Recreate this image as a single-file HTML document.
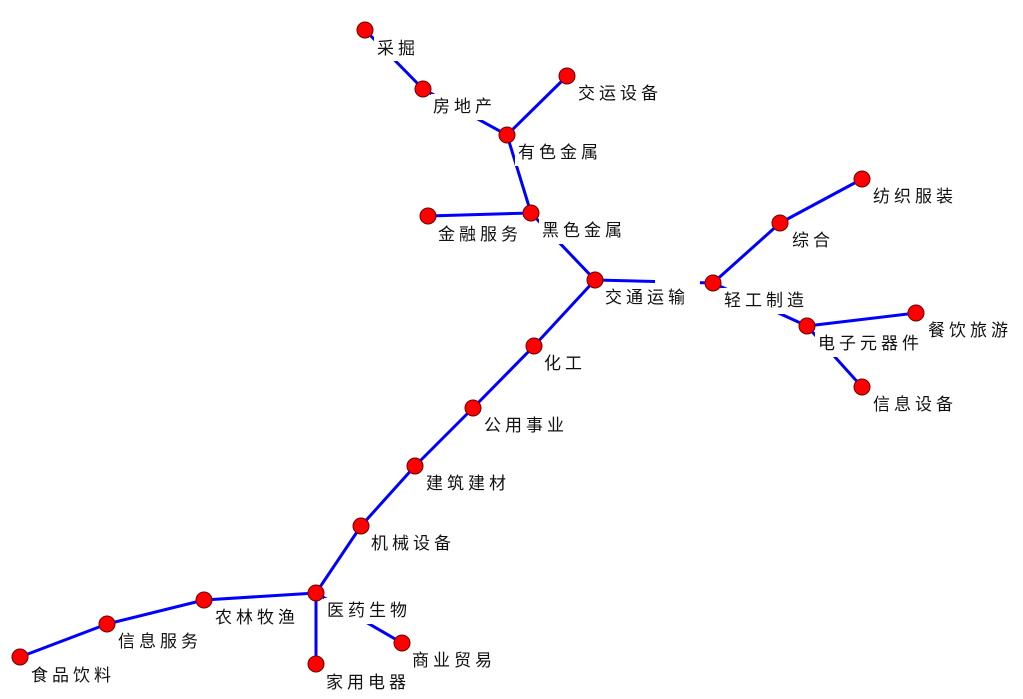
<!DOCTYPE html>
<html><head><meta charset="utf-8"><style>
html,body{margin:0;padding:0;background:#fff;}
svg{display:block;}
text{font-family:"Liberation Sans","Noto Sans CJK SC","WenQuanYi Zen Hei",sans-serif;font-size:17px;fill:#111;letter-spacing:4px;}
</style></head><body>
<svg width="1023" height="699" viewBox="0 0 1023 699" xmlns="http://www.w3.org/2000/svg">
<g stroke="#0000ff" stroke-width="3" fill="none">
<line x1="365" y1="30" x2="423" y2="89"/>
<line x1="423" y1="89" x2="507" y2="135"/>
<line x1="567" y1="76" x2="507" y2="135"/>
<line x1="507" y1="135" x2="531" y2="213"/>
<line x1="428" y1="216" x2="531" y2="213"/>
<line x1="531" y1="213" x2="595" y2="280"/>
<line x1="595" y1="280" x2="713" y2="283"/>
<line x1="713" y1="283" x2="780" y2="223"/>
<line x1="780" y1="223" x2="862" y2="179"/>
<line x1="713" y1="283" x2="807" y2="326"/>
<line x1="807" y1="326" x2="916" y2="313"/>
<line x1="807" y1="326" x2="862" y2="387"/>
<line x1="595" y1="280" x2="534" y2="346"/>
<line x1="534" y1="346" x2="473" y2="408"/>
<line x1="473" y1="408" x2="415" y2="466"/>
<line x1="415" y1="466" x2="361" y2="526"/>
<line x1="361" y1="526" x2="316" y2="593"/>
<line x1="316" y1="593" x2="204" y2="600"/>
<line x1="204" y1="600" x2="107" y2="624"/>
<line x1="107" y1="624" x2="20" y2="657"/>
<line x1="316" y1="593" x2="402" y2="643"/>
<line x1="316" y1="593" x2="316" y2="664"/>
</g>
<g fill="#fff">
<rect x="655" y="277" width="45" height="10"/>
<rect x="374" y="35" width="46" height="26"/>
<rect x="431" y="94" width="67" height="26"/>
<rect x="575" y="81" width="88" height="26"/>
<rect x="515" y="140" width="88" height="26"/>
<rect x="539" y="218" width="88" height="26"/>
<rect x="436" y="221" width="88" height="26"/>
<rect x="603" y="285" width="88" height="26"/>
<rect x="721" y="288" width="88" height="26"/>
<rect x="788" y="228" width="46" height="26"/>
<rect x="870" y="184" width="88" height="26"/>
<rect x="815" y="331" width="109" height="26"/>
<rect x="925" y="318" width="88" height="26"/>
<rect x="870" y="392" width="88" height="26"/>
<rect x="542" y="351" width="46" height="26"/>
<rect x="481" y="413" width="88" height="26"/>
<rect x="423" y="471" width="88" height="26"/>
<rect x="369" y="531" width="88" height="26"/>
<rect x="324" y="598" width="88" height="26"/>
<rect x="212" y="605" width="88" height="26"/>
<rect x="115" y="629" width="88" height="26"/>
<rect x="28" y="662" width="88" height="26"/>
<rect x="410" y="648" width="88" height="26"/>
<rect x="324" y="669" width="88" height="26"/>
</g>
<g>
<text x="377" y="54">采掘</text>
<text x="433" y="112">房地产</text>
<text x="578" y="99">交运设备</text>
<text x="518" y="158">有色金属</text>
<text x="542" y="236">黑色金属</text>
<text x="438" y="240">金融服务</text>
<text x="605" y="303">交通运输</text>
<text x="724" y="306">轻工制造</text>
<text x="792" y="246">综合</text>
<text x="873" y="202">纺织服装</text>
<text x="818" y="349">电子元器件</text>
<text x="928" y="336">餐饮旅游</text>
<text x="873" y="410">信息设备</text>
<text x="544" y="369">化工</text>
<text x="484" y="431">公用事业</text>
<text x="426" y="489">建筑建材</text>
<text x="371" y="549">机械设备</text>
<text x="327" y="616">医药生物</text>
<text x="215" y="623">农林牧渔</text>
<text x="118" y="647">信息服务</text>
<text x="31" y="681">食品饮料</text>
<text x="412" y="666">商业贸易</text>
<text x="326" y="688">家用电器</text>
</g>
<g fill="#ff0000" stroke="#6b0000" stroke-width="1">
<circle cx="365" cy="30" r="8"/>
<circle cx="423" cy="89" r="8"/>
<circle cx="567" cy="76" r="8"/>
<circle cx="507" cy="135" r="8"/>
<circle cx="531" cy="213" r="8"/>
<circle cx="428" cy="216" r="8"/>
<circle cx="595" cy="280" r="8"/>
<circle cx="713" cy="283" r="8"/>
<circle cx="780" cy="223" r="8"/>
<circle cx="862" cy="179" r="8"/>
<circle cx="807" cy="326" r="8"/>
<circle cx="916" cy="313" r="8"/>
<circle cx="862" cy="387" r="8"/>
<circle cx="534" cy="346" r="8"/>
<circle cx="473" cy="408" r="8"/>
<circle cx="415" cy="466" r="8"/>
<circle cx="361" cy="526" r="8"/>
<circle cx="316" cy="593" r="8"/>
<circle cx="204" cy="600" r="8"/>
<circle cx="107" cy="624" r="8"/>
<circle cx="20" cy="657" r="8"/>
<circle cx="402" cy="643" r="8"/>
<circle cx="316" cy="664" r="8"/>
</g>
</svg>
</body></html>
